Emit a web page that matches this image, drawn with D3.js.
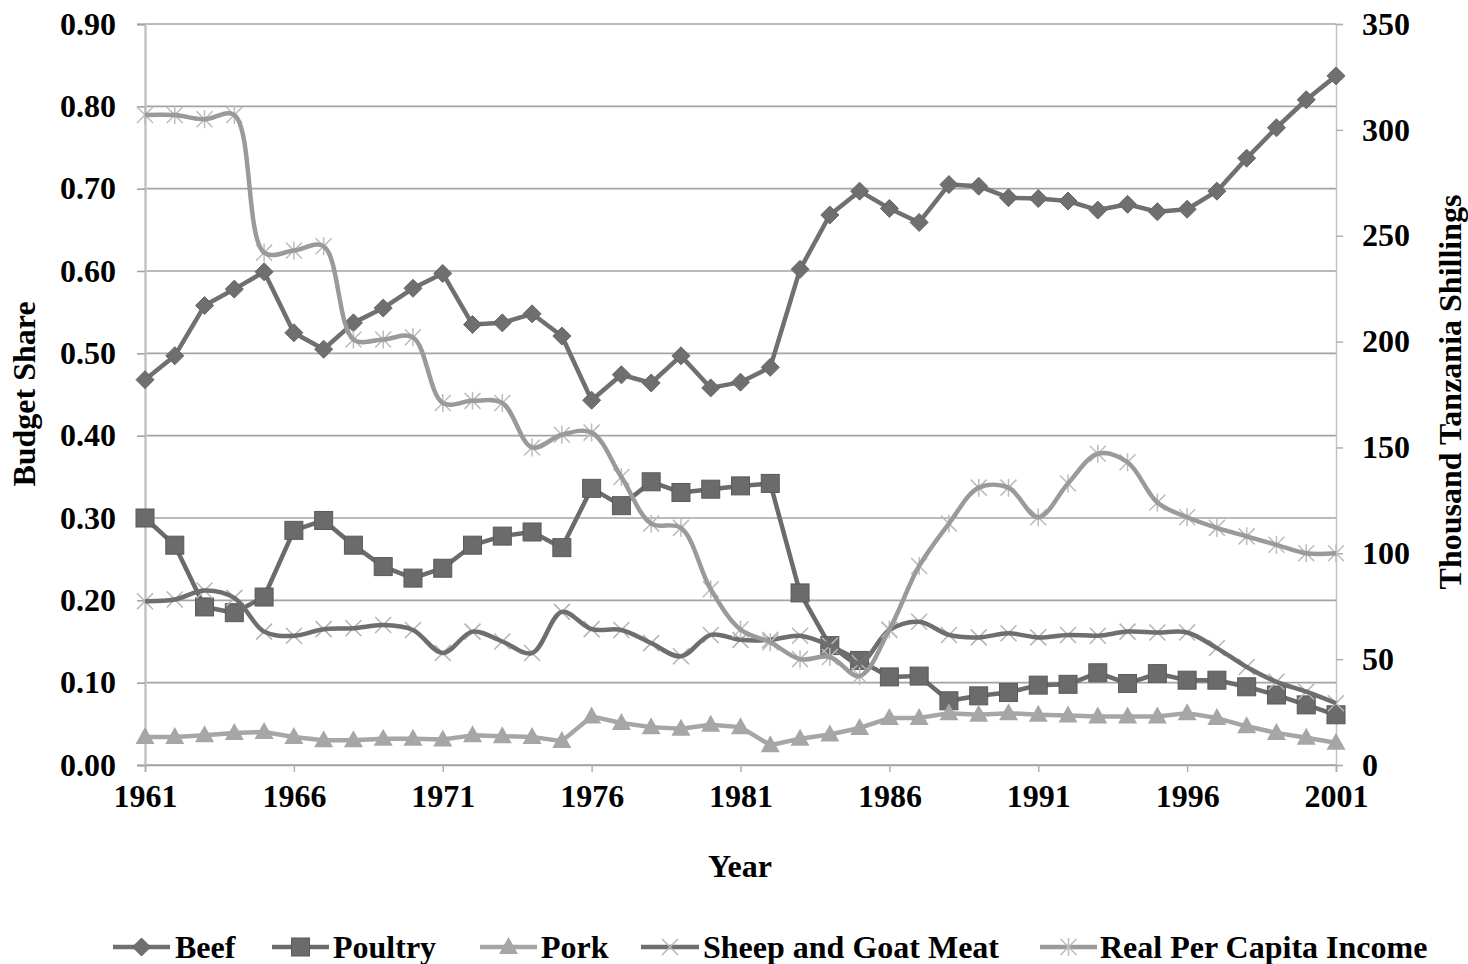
<!DOCTYPE html>
<html>
<head>
<meta charset="utf-8">
<script src="https://cdn.jsdelivr.net/npm/d3@7"></script>
<style>
  html, body { margin: 0; padding: 0; background: #ffffff; }
  svg { display: block; }
  text { font-family: "Liberation Serif", "Times New Roman", serif; font-weight: bold; fill: #000; }
</style>
</head>
<body>
<svg id="chart" width="1468" height="964"></svg>
<script>
// ---------------- DATA ----------------
const years = [1961,1962,1963,1964,1965,1966,1967,1968,1969,1970,
               1971,1972,1973,1974,1975,1976,1977,1978,1979,1980,
               1981,1982,1983,1984,1985,1986,1987,1988,1989,1990,
               1991,1992,1993,1994,1995,1996,1997,1998,1999,2000,2001];

const beef = [0.468,0.497,0.558,0.578,0.599,0.525,0.505,0.537,0.555,0.579,
              0.597,0.535,0.537,0.548,0.521,0.443,0.474,0.464,0.497,0.458,
              0.465,0.483,0.602,0.668,0.697,0.676,0.659,0.705,0.703,0.689,
              0.688,0.685,0.674,0.681,0.672,0.675,0.697,0.737,0.774,0.808,0.837];

const poultry = [0.300,0.267,0.192,0.185,0.204,0.285,0.297,0.267,0.241,0.227,
                 0.239,0.267,0.278,0.283,0.264,0.336,0.315,0.344,0.331,0.335,
                 0.339,0.342,0.209,0.145,0.127,0.107,0.108,0.078,0.084,0.088,
                 0.097,0.098,0.112,0.099,0.111,0.103,0.103,0.095,0.085,0.073,0.061];

const pork = [0.034,0.034,0.036,0.039,0.040,0.034,0.030,0.030,0.032,0.032,
              0.031,0.036,0.035,0.034,0.029,0.059,0.051,0.046,0.044,0.049,
              0.046,0.024,0.032,0.037,0.045,0.057,0.057,0.063,0.061,0.063,
              0.061,0.060,0.059,0.059,0.059,0.063,0.057,0.047,0.039,0.033,0.027];

const sheepGoat = [0.199,0.201,0.212,0.203,0.162,0.157,0.165,0.166,0.170,0.164,
                   0.136,0.162,0.150,0.136,0.186,0.165,0.164,0.148,0.132,0.158,
                   0.152,0.152,0.157,0.145,0.124,0.164,0.174,0.158,0.155,0.160,
                   0.155,0.158,0.157,0.162,0.161,0.161,0.142,0.119,0.101,0.089,0.075];

const income = [307,307,305,307,242,243,245,201,201,202,
                171,172,171,150,156,157,136,114,112,83,
                64,58,50,51,42,64,94,114,131,131,
                117,133,147,143,124,117,112,108,104,100,100];

const leftTicks = [0,0.1,0.2,0.3,0.4,0.5,0.6,0.7,0.8,0.9];
const rightTicks = [0,50,100,150,200,250,300,350];
const yearTicks = [1961,1966,1971,1976,1981,1986,1991,1996,2001];

const seriesNames = ["Beef","Poultry","Pork","Sheep and Goat Meat","Real Per Capita Income"];

// ---------------- LAYOUT ----------------
const svg = d3.select("#chart");
const plot = { left: 145, right: 1336, top: 24, bottom: 765 };

const x = d3.scaleLinear().domain([1961, 2001]).range([plot.left, plot.right]);
const yL = d3.scaleLinear().domain([0, 0.9]).range([plot.bottom, plot.top]);
const yR = d3.scaleLinear().domain([0, 350]).range([plot.bottom, plot.top]);

const FS = 32;

// gridlines
svg.append("g").selectAll("line").data(leftTicks).join("line")
  .attr("x1", plot.left).attr("x2", plot.right)
  .attr("y1", d => yL(d)).attr("y2", d => yL(d))
  .attr("stroke", "#a3a3a3").attr("stroke-width", 1.6);

// left axis
const gL = svg.append("g").attr("transform", `translate(${plot.left},0)`)
  .call(d3.axisLeft(yL).tickValues(leftTicks).tickFormat(d3.format(".2f")).tickSize(8).tickPadding(21));
gL.select(".domain").attr("stroke", "#c4c4c4").attr("stroke-width", 2.5);
gL.selectAll(".tick line").attr("stroke", "#a3a3a3").attr("stroke-width", 1.6);
gL.selectAll(".tick text").style("font-size", FS + "px").attr("font-family", null).attr("fill", "#000");

// right axis
const gR = svg.append("g").attr("transform", `translate(${plot.right},0)`)
  .call(d3.axisRight(yR).tickValues(rightTicks).tickSize(7).tickPadding(19));
gR.select(".domain").attr("stroke", "#c4c4c4").attr("stroke-width", 1.5);
gR.selectAll(".tick line").attr("stroke", "#b0b0b0").attr("stroke-width", 1.5);
gR.selectAll(".tick text").style("font-size", FS + "px").attr("font-family", null).attr("fill", "#000");

// x axis
const gX = svg.append("g").attr("transform", `translate(0,${plot.bottom})`)
  .call(d3.axisBottom(x).tickValues(yearTicks).tickFormat(d3.format("d")).tickSize(7).tickPadding(12));
gX.select(".domain").attr("stroke", "#a3a3a3").attr("stroke-width", 1.6);
gX.selectAll(".tick line").attr("stroke", "#b0b0b0").attr("stroke-width", 1.5);
gX.selectAll(".tick text").style("font-size", FS + "px").attr("font-family", null).attr("fill", "#000");

// axis titles
svg.append("text").attr("transform", "translate(35,394) rotate(-90)")
  .attr("text-anchor", "middle").style("font-size", FS + "px").text("Budget Share");
svg.append("text").attr("transform", "translate(1461,392) rotate(-90)")
  .attr("text-anchor", "middle").style("font-size", FS + "px").text("Thousand Tanzania Shillings");
svg.append("text").attr("x", 740).attr("y", 877)
  .attr("text-anchor", "middle").style("font-size", FS + "px").text("Year");

// ---------------- MARKERS ----------------
function drawMarker(g, type, cx, cy) {
  if (type === "diamond") {
    const s = 9;
    g.append("path").attr("d", `M${cx},${cy - s}L${cx + s},${cy}L${cx},${cy + s}L${cx - s},${cy}Z`)
      .attr("fill", "#6f6f6f").attr("stroke", "#666").attr("stroke-width", 1);
  } else if (type === "square") {
    const s = 9;
    g.append("rect").attr("x", cx - s).attr("y", cy - s).attr("width", 2 * s).attr("height", 2 * s)
      .attr("fill", "#6b6b6b").attr("stroke", "#5a5a5a").attr("stroke-width", 1);
  } else if (type === "triangle") {
    g.append("path").attr("d", `M${cx},${cy - 10}L${cx + 9.5},${cy + 7}L${cx - 9.5},${cy + 7}Z`)
      .attr("fill", "#a6a6a6");
  } else if (type === "x") {
    const s = 8;
    g.append("path").attr("d", `M${cx - s},${cy - s}L${cx + s},${cy + s}M${cx - s},${cy + s}L${cx + s},${cy - s}`)
      .attr("stroke", "#b4b4b4").attr("stroke-width", 1.5).attr("fill", "none");
  } else if (type === "star") {
    const s = 8;
    g.append("path").attr("d", `M${cx - s},${cy - s}L${cx + s},${cy + s}M${cx - s},${cy + s}L${cx + s},${cy - s}M${cx},${cy - s - 1}L${cx},${cy + s + 1}`)
      .attr("stroke", "#bcbcbc").attr("stroke-width", 1.5).attr("fill", "none");
  }
}

const series = [
  { name: seriesNames[0], values: beef, axis: yL, color: "#707070", marker: "diamond", curve: d3.curveLinear, markerOnTop: true },
  { name: seriesNames[1], values: poultry, axis: yL, color: "#6b6b6b", marker: "square", curve: d3.curveLinear, markerOnTop: true },
  { name: seriesNames[2], values: pork, axis: yL, color: "#a6a6a6", marker: "triangle", curve: d3.curveLinear, markerOnTop: true },
  { name: seriesNames[3], values: sheepGoat, axis: yL, color: "#6e6e6e", marker: "x", curve: d3.curveCatmullRom.alpha(0.5), markerOnTop: false },
  { name: seriesNames[4], values: income, axis: yR, color: "#9a9a9a", marker: "star", curve: d3.curveCatmullRom.alpha(0.5), markerOnTop: false }
];

series.forEach(s => {
  const g = svg.append("g");
  const pts = years.map((yr, i) => [x(yr), s.axis(s.values[i])]);
  const line = d3.line().curve(s.curve);
  const lineG = g.append("g");
  const markG = g.append("g");
  lineG.append("path").attr("d", line(pts)).attr("fill", "none")
    .attr("stroke", s.color).attr("stroke-width", 4.5).attr("stroke-linejoin", "round");
  pts.forEach(p => drawMarker(markG, s.marker, p[0], p[1]));
  if (!s.markerOnTop) markG.lower();
});

// ---------------- LEGEND ----------------
const legendLayout = [
  { x0: 113, x1: 170, tx: 175 },
  { x0: 272, x1: 329, tx: 333 },
  { x0: 480, x1: 537, tx: 541 },
  { x0: 641, x1: 699, tx: 703 },
  { x0: 1040, x1: 1097, tx: 1100 }
];
const ly = 947;
series.forEach((s, i) => {
  const L = legendLayout[i];
  const g = svg.append("g");
  g.append("line").attr("x1", L.x0).attr("x2", L.x1).attr("y1", ly).attr("y2", ly)
    .attr("stroke", s.color).attr("stroke-width", 4.5);
  drawMarker(g, s.marker, (L.x0 + L.x1) / 2, ly);
  g.append("text").attr("x", L.tx).attr("y", ly + 11).style("font-size", FS + "px").text(s.name);
});
</script>
</body>
</html>
